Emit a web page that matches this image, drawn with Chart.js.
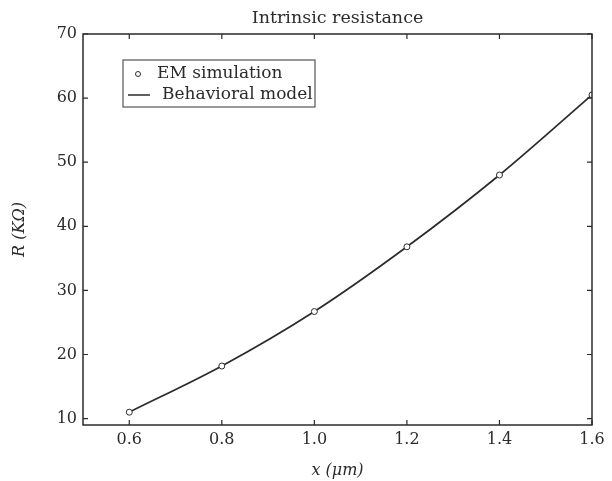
<!DOCTYPE html>
<html>
<head>
<meta charset="utf-8">
<script src="https://cdn.jsdelivr.net/npm/chart.js@4/dist/chart.umd.min.js"></script>
<style>
  html, body { margin: 0; padding: 0; background: #fff; }
  #wrap { width: 612px; height: 481px; }
</style>
</head>
<body>
<div id="wrap"><canvas id="c" width="612" height="481"></canvas></div>
<script>
'use strict'

// values
const xValues = [0.6, 0.8, 1.0, 1.2, 1.4, 1.6]
const emValues = [11.0, 18.2, 26.7, 36.8, 48.0, 60.5]
const modelValues = [11.0, 18.2, 26.7, 36.8, 48.0, 60.5]
const xTicks = [0.6, 0.8, 1.0, 1.2, 1.4, 1.6]
const yTicks = [10, 20, 30, 40, 50, 60, 70]

const ink = '#2b2b2b'
const serif = "'DejaVu Serif', 'Liberation Serif', serif"

function toPoints(xs, ys){
    let pts = []
    for(var i=0;i<xs.length;i++){
        pts.push({x: xs[i], y: ys[i]})
    }
    return pts
}

// frame + inward ticks on all four sides, like the original plot
const framePlugin = {
    id: 'frame',
    afterDatasetsDraw(chart){
        const ctx = chart.ctx
        const a = chart.chartArea
        const xs = chart.scales.x
        const ys = chart.scales.y
        ctx.save()
        ctx.strokeStyle = ink
        ctx.lineWidth = 1.5
        ctx.strokeRect(a.left, a.top, a.right - a.left, a.bottom - a.top)
        ctx.lineWidth = 1.2
        ctx.beginPath()
        xs.ticks.forEach(t => {
            const px = xs.getPixelForValue(t.value)
            ctx.moveTo(px, a.bottom); ctx.lineTo(px, a.bottom - 5)
            ctx.moveTo(px, a.top); ctx.lineTo(px, a.top + 5)
        })
        ys.ticks.forEach(t => {
            const py = ys.getPixelForValue(t.value)
            ctx.moveTo(a.left, py); ctx.lineTo(a.left + 5, py)
            ctx.moveTo(a.right, py); ctx.lineTo(a.right - 5, py)
        })
        ctx.stroke()
        ctx.restore()
    }
}

// legend box drawn inside the plot, items taken from the datasets
const boxLegend = {
    id: 'boxLegend',
    afterDraw(chart){
        const ctx = chart.ctx
        const a = chart.chartArea
        const x0 = a.left + 40, y0 = a.top + 26, w = 192, h = 47
        ctx.save()
        ctx.fillStyle = '#fff'
        ctx.fillRect(x0, y0, w, h)
        ctx.strokeStyle = '#555'
        ctx.lineWidth = 1.2
        ctx.strokeRect(x0, y0, w, h)
        ctx.font = '17px ' + serif
        ctx.fillStyle = ink
        ctx.textBaseline = 'middle'
        const ds = chart.data.datasets
        // EM simulation: circle marker
        let yy = y0 + 14
        ctx.beginPath()
        ctx.arc(x0 + 15, yy, 2.5, 0, Math.PI * 2)
        ctx.strokeStyle = ink
        ctx.lineWidth = 1
        ctx.stroke()
        ctx.fillText(ds[0].label, x0 + 34, yy)
        // Behavioral model: line
        yy = y0 + 35
        ctx.beginPath()
        ctx.moveTo(x0 + 5, yy); ctx.lineTo(x0 + 27, yy)
        ctx.lineWidth = 1.5
        ctx.stroke()
        ctx.fillText(ds[1].label, x0 + 39, yy)
        ctx.restore()
    }
}

const ctx = document.getElementById('c')
new Chart(ctx, {
    type: 'line',
    data: {
        datasets: [{
            label: 'EM simulation',
            data: toPoints(xValues, emValues),
            showLine: false,
            pointRadius: 3,
            pointBackgroundColor: '#fff',
            pointBorderColor: ink,
            pointBorderWidth: 1,
            order: 0
        }, {
            label: 'Behavioral model',
            data: toPoints(xValues, modelValues),
            borderColor: ink,
            borderWidth: 1.7,
            pointRadius: 0,
            cubicInterpolationMode: 'monotone',
            fill: false,
            order: 1
        }]
    },
    options: {
        responsive: false,
        animation: false,
        layout: { padding: { left: 0, right: 20, top: 0, bottom: 0 } },
        plugins: {
            legend: { display: false },
            tooltip: { enabled: false },
            title: {
                display: true,
                fullSize: false,
                text: 'Intrinsic resistance',
                color: ink,
                font: { family: serif, size: 17.5, weight: 'normal' },
                padding: { top: 8, bottom: 5 }
            }
        },
        scales: {
            x: {
                type: 'linear',
                min: 0.5,
                max: 1.6,
                afterBuildTicks: s => { s.ticks = xTicks.map(v => ({value: v})) },
                afterFit: s => { s.height = 56 },
                grid: { display: false, drawTicks: false },
                border: { display: false },
                ticks: {
                    color: ink,
                    padding: 5,
                    font: { family: serif, size: 16 },
                    callback: v => v.toFixed(1)
                },
                title: {
                    display: true,
                    text: 'x (μm)',
                    color: ink,
                    font: { family: serif, size: 16, style: 'italic' },
                    padding: { top: 0, bottom: 1 }
                }
            },
            y: {
                type: 'linear',
                min: 9,
                max: 70,
                afterBuildTicks: s => { s.ticks = yTicks.map(v => ({value: v})) },
                afterFit: s => { s.width = 83 },
                grid: { display: false, drawTicks: false },
                border: { display: false },
                ticks: {
                    color: ink,
                    padding: 6,
                    font: { family: serif, size: 16 }
                },
                title: {
                    display: true,
                    text: 'R (KΩ)',
                    color: ink,
                    font: { family: serif, size: 16, style: 'italic' },
                    padding: { top: 10, bottom: 0 }
                }
            }
        }
    },
    plugins: [framePlugin, boxLegend]
})
</script>
</body>
</html>
